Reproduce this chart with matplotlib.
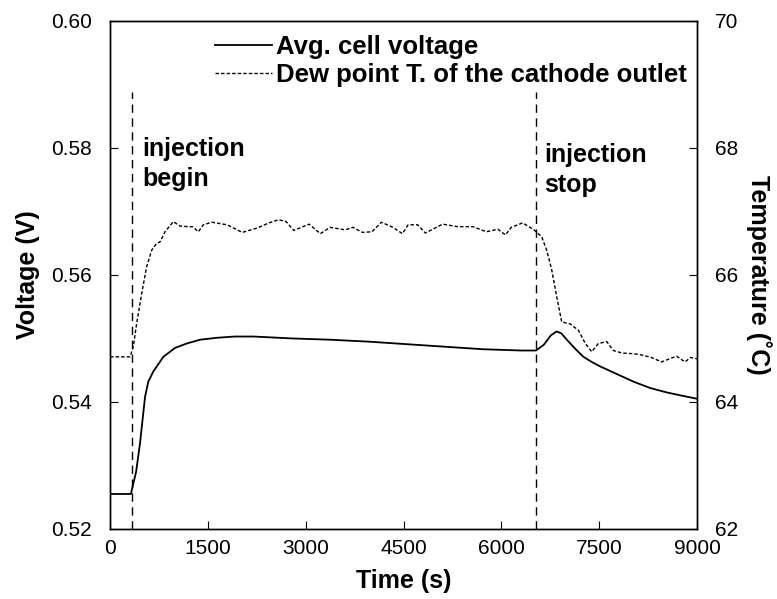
import matplotlib
matplotlib.use("Agg")
import matplotlib.pyplot as plt

plt.rcParams["font.family"] = ["Liberation Sans", "DejaVu Sans"]

# average cell voltage (V)
volt_time = [0, 320, 400, 460, 537, 587, 664, 817, 996, 1176, 1380, 1636, 1911,
             2200, 2788, 3372, 3957, 4542, 5128, 5713, 6300, 6530, 6650, 6760,
             6848, 6920, 7003, 7130, 7258, 7385, 7513, 7769, 8024, 8279, 8535,
             8760, 9000]
volt = [0.5255, 0.5255, 0.5290, 0.5335, 0.5408, 0.5432, 0.5448, 0.5471, 0.5485,
        0.5492, 0.5498, 0.5501, 0.5503, 0.5503, 0.5500, 0.5498, 0.5495, 0.5491,
        0.5487, 0.5483, 0.5481, 0.5481, 0.5490, 0.5505, 0.5511, 0.5508, 0.5498,
        0.5484, 0.5471, 0.5463, 0.5456, 0.5444, 0.5432, 0.5422, 0.5415, 0.5410,
        0.5405]

# dew point temperature of the cathode outlet (C)
dew_time = [0, 307, 357, 409, 486, 562, 639, 716, 766, 843, 971, 1073, 1201, 1266,
            1354, 1431, 1559, 1794, 2027, 2261, 2436, 2583, 2700, 2817, 3051,
            3226, 3372, 3605, 3723, 3869, 4015, 4161, 4337, 4483, 4571, 4717,
            4834, 5098, 5331, 5565, 5770, 5946, 6063, 6151, 6326, 6502, 6618,
            6695, 6772, 6848, 6925, 7052, 7180, 7282, 7385, 7487, 7615, 7717,
            7850, 8024, 8150, 8300, 8457, 8580, 8687, 8815, 8900, 9000]
dew = [64.71, 64.71, 64.87, 65.24, 65.71, 66.13, 66.39, 66.50, 66.52, 66.68, 66.84,
       66.77, 66.76, 66.76, 66.68, 66.79, 66.83, 66.79, 66.67, 66.74, 66.82, 66.87,
       66.84, 66.70, 66.80, 66.65, 66.75, 66.71, 66.75, 66.67, 66.68, 66.83, 66.75,
       66.65, 66.79, 66.79, 66.66, 66.80, 66.76, 66.76, 66.68, 66.72, 66.63, 66.75,
       66.82, 66.71, 66.60, 66.39, 66.08, 65.66, 65.26, 65.23, 65.13, 64.93, 64.79,
       64.92, 64.95, 64.81, 64.77, 64.76, 64.74, 64.70, 64.63, 64.68, 64.72, 64.63,
       64.70, 64.68]

inj_begin = 330
inj_stop = 6530

x_ticks = [0, 1500, 3000, 4500, 6000, 7500, 9000]
v_ticks = [0.52, 0.54, 0.56, 0.58, 0.60]
t_ticks = [62, 64, 66, 68, 70]

fig = plt.figure(figsize=(7.77, 5.99), dpi=100)
ax = fig.add_axes([0.1416, 0.117, 0.7555, 0.848])
ax2 = ax.twinx()

(l1,) = ax.plot(volt_time, volt, color="black", lw=1.3)
(l2,) = ax2.plot(dew_time, dew, color="black", lw=1.0, ls=(0, (2.5, 1.5)))

for t in (inj_begin, inj_stop):
    ax.plot([t, t], [0.52, 0.5888], color="black", lw=1.0, ls=(0, (6, 4)))

ax.set_xlim(0, 9000)
ax.set_ylim(0.52, 0.60)
ax2.set_ylim(62, 70)
ax.set_xticks(x_ticks)
ax.set_yticks(v_ticks)
ax.set_yticklabels([f"{v:.2f}" for v in v_ticks])
ax2.set_yticks(t_ticks)

ax.tick_params(axis="x", direction="in", length=6, pad=7, labelsize=15)
ax.tick_params(axis="y", direction="in", length=6, pad=13, labelsize=15)
ax2.tick_params(axis="y", direction="in", length=6, pad=13, labelsize=15)

for a in (ax, ax2):
    for s in a.spines.values():
        s.set_linewidth(1.0)

ax.set_xlabel("Time (s)", fontsize=18, fontweight="bold", labelpad=8)
ax.set_ylabel("Voltage (V)", fontsize=18, fontweight="bold", labelpad=8)
ax2.set_ylabel("Temperature (\u02daC)", fontsize=18, fontweight="bold",
               rotation=270, labelpad=24)

ax.text(500, 0.5775, "injection\nbegin", fontsize=18, fontweight="bold",
        va="center", ha="left", linespacing=1.35)
ax.text(6660, 0.5765, "injection\nstop", fontsize=18, fontweight="bold",
        va="center", ha="left", linespacing=1.3)

ax.legend([l1, l2], ["Avg. cell voltage", "Dew point T. of the cathode outlet"],
          loc="upper left", bbox_to_anchor=(0.14, 1.017), frameon=False,
          prop={"size": 18.5, "weight": "bold"}, handlelength=2.2,
          handletextpad=0.15, labelspacing=0.12)

fig.savefig("out.png", dpi=100)
